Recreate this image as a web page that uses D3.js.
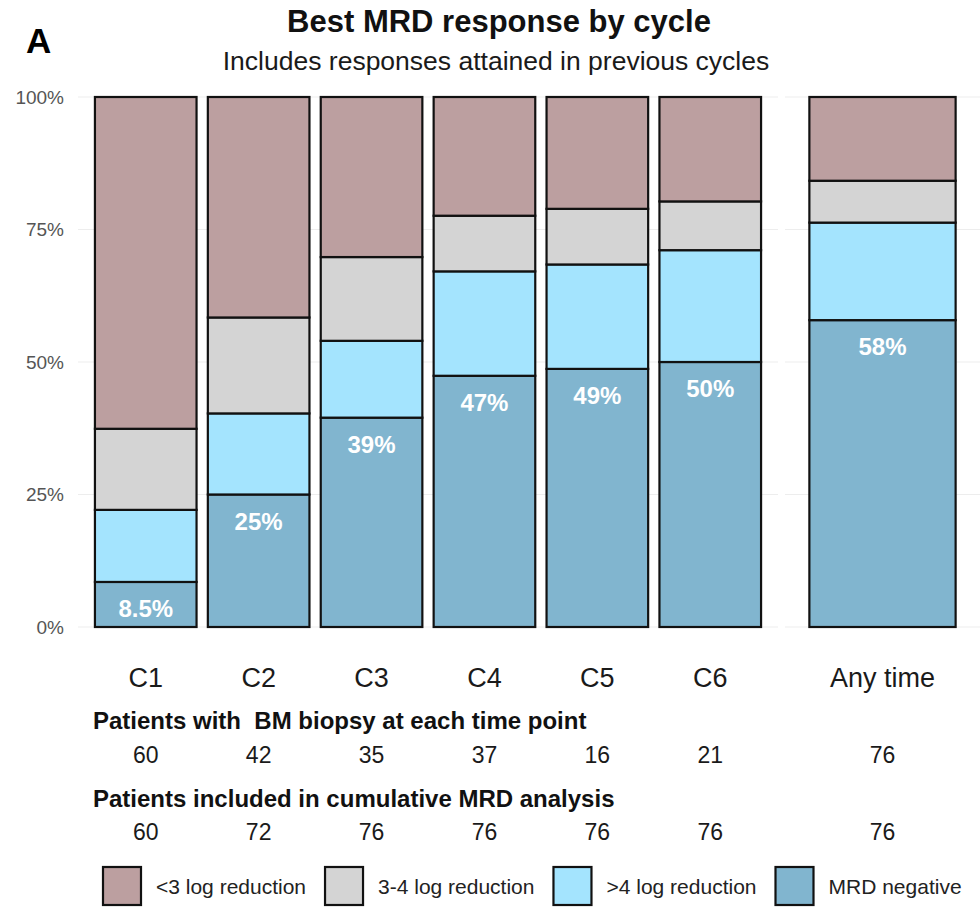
<!DOCTYPE html>
<html>
<head>
<meta charset="utf-8">
<script src="https://cdn.jsdelivr.net/npm/d3@7"></script>
<style>
  html, body { margin: 0; padding: 0; background: #fff; }
  svg text { font-family: "Liberation Sans", Arial, Helvetica, sans-serif; }
</style>
</head>
<body>
<svg id="chart" width="980" height="923"></svg>
<script>
// ---------------- data ----------------
const categories = ["C1", "C2", "C3", "C4", "C5", "C6", "Any time"];
const cycleCategories = ["C1", "C2", "C3", "C4", "C5", "C6"];
const anyTimeCategories = ["Any time"];

// stacked from bottom to top (percent of patients)
const responseLevels = ["MRD negative", ">4 log reduction", "3-4 log reduction", "<3 log reduction"];
const mrdNegative   = [8.5, 25.0, 39.5, 47.4, 48.7, 50.0, 57.9];
const gt4Log        = [13.6, 15.3, 14.5, 19.7, 19.7, 21.1, 18.4];
const log3to4       = [15.3, 18.1, 15.8, 10.5, 10.5, 9.2, 7.9];
const lt3Log        = [62.6, 41.6, 30.2, 22.4, 21.1, 19.7, 15.8];

const mrdLabels = ["8.5%", "25%", "39%", "47%", "49%", "50%", "58%"];
const biopsyCounts = [60, 42, 35, 37, 16, 21, 76];
const cumulativeCounts = [60, 72, 76, 76, 76, 76, 76];
const yTicks = [0, 25, 50, 75, 100];

const legendOrder = ["<3 log reduction", "3-4 log reduction", ">4 log reduction", "MRD negative"];
const colors = {
  "<3 log reduction": "#BC9FA0",
  "3-4 log reduction": "#D4D4D4",
  ">4 log reduction": "#A4E4FE",
  "MRD negative": "#81B5CF"
};

// ---------------- build table ----------------
const seriesByLevel = {
  "MRD negative": mrdNegative,
  ">4 log reduction": gt4Log,
  "3-4 log reduction": log3to4,
  "<3 log reduction": lt3Log
};
const rows = categories.map((c, i) => {
  const r = { category: c };
  responseLevels.forEach(l => r[l] = seriesByLevel[l][i]);
  return r;
});
const stacked = d3.stack().keys(responseLevels)(rows);

// ---------------- layout ----------------
const svg = d3.select("#chart");
const fontFam = '"Liberation Sans", Arial, Helvetica, sans-serif';

const y = d3.scaleLinear().domain([0, 100]).range([627, 97]);

const xCycle = d3.scaleBand().domain(cycleCategories).range([78, 778])
  .paddingInner(0.1).paddingOuter(0.15);
const xAny = d3.scaleBand().domain(anyTimeCategories).range([785, 980])
  .paddingInner(0.1).paddingOuter(0.15);
const panels = [
  { scale: xCycle, x0: 78, x1: 778 },
  { scale: xAny, x0: 785, x1: 980 }
];
function xScaleFor(cat) { return cycleCategories.includes(cat) ? xCycle : xAny; }

// gridlines
panels.forEach(p => {
  svg.append("g").selectAll("line").data(yTicks).join("line")
    .attr("x1", p.x0).attr("x2", p.x1)
    .attr("y1", d => y(d)).attr("y2", d => y(d))
    .attr("stroke", "#EDEDED").attr("stroke-width", 1.2);
});

// title
svg.append("text").attr("x", 499).attr("y", 32).attr("text-anchor", "middle")
  .attr("font-size", 31).attr("font-weight", "bold").attr("fill", "#111")
  .text("Best MRD response by cycle");
svg.append("text").attr("x", 496).attr("y", 70).attr("text-anchor", "middle")
  .attr("font-size", 26.5).attr("fill", "#1a1a1a")
  .text("Includes responses attained in previous cycles");
svg.append("text").attr("x", 26).attr("y", 53)
  .attr("font-size", 35).attr("font-weight", "bold").attr("fill", "#000")
  .text("A");

// y axis
const yAxis = svg.append("g").attr("transform", "translate(78,0)")
  .call(d3.axisLeft(y).tickValues(yTicks).tickFormat(d => d + "%").tickSize(0).tickPadding(14));
yAxis.select(".domain").remove();
yAxis.selectAll("text").attr("font-size", 19).attr("fill", "#555").attr("font-family", fontFam);

// bars
const barG = svg.append("g");
stacked.forEach(layer => {
  barG.append("g").selectAll("rect").data(layer).join("rect")
    .attr("x", d => xScaleFor(d.data.category)(d.data.category))
    .attr("width", d => xScaleFor(d.data.category).bandwidth())
    .attr("y", d => y(d[1]))
    .attr("height", d => y(d[0]) - y(d[1]))
    .attr("fill", colors[layer.key])
    .attr("stroke", "#111").attr("stroke-width", 2.2);
});

// MRD negative labels
svg.append("g").selectAll("text").data(categories).join("text")
  .attr("x", (c) => xScaleFor(c)(c) + xScaleFor(c).bandwidth() / 2)
  .attr("y", (c, i) => y(mrdNegative[i]) + 35)
  .attr("text-anchor", "middle")
  .attr("font-size", 24).attr("font-weight", "bold").attr("fill", "#fff")
  .text((c, i) => mrdLabels[i]);

// x axes
panels.forEach(p => {
  const ax = svg.append("g").attr("transform", "translate(0,627)")
    .call(d3.axisBottom(p.scale).tickSize(0).tickPadding(41));
  ax.select(".domain").remove();
  ax.selectAll("text").attr("font-size", 27).attr("fill", "#1a1a1a").attr("font-family", fontFam);
});

// patient count table
function countRow(values, baseline) {
  svg.append("g").selectAll("text").data(categories).join("text")
    .attr("x", c => xScaleFor(c)(c) + xScaleFor(c).bandwidth() / 2)
    .attr("y", baseline)
    .attr("text-anchor", "middle")
    .attr("font-size", 23).attr("fill", "#1a1a1a")
    .text((c, i) => values[i]);
}
svg.append("text").attr("x", 93).attr("y", 729)
  .attr("font-size", 24).attr("font-weight", "bold").attr("fill", "#111")
  .style("white-space", "pre")
  .text("Patients with  BM biopsy at each time point");
countRow(biopsyCounts, 763);
svg.append("text").attr("x", 93).attr("y", 807)
  .attr("font-size", 24).attr("font-weight", "bold").attr("fill", "#111")
  .text("Patients included in cumulative MRD analysis");
countRow(cumulativeCounts, 840);

// legend
const legend = svg.append("g");
let lx = 103;
legendOrder.forEach(name => {
  legend.append("rect").attr("x", lx).attr("y", 867).attr("width", 38).attr("height", 38)
    .attr("fill", colors[name]).attr("stroke", "#111").attr("stroke-width", 2.2);
  const t = legend.append("text").attr("x", lx + 53).attr("y", 894)
    .attr("font-size", 21).attr("fill", "#222").text(name);
  lx = lx + 53 + t.node().getComputedTextLength() + 19;
});
</script>
</body>
</html>
